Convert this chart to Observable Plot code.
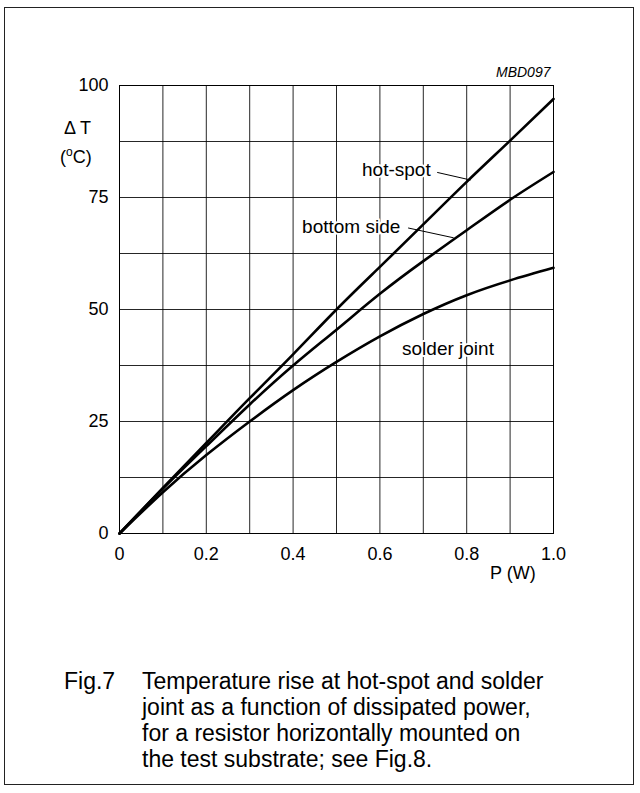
<!DOCTYPE html>
<html>
<head>
<meta charset="utf-8">
<script src="https://cdn.jsdelivr.net/npm/d3@7"></script>
<script src="https://cdn.jsdelivr.net/npm/@observablehq/plot@0.6"></script>
<style>
  html, body { margin: 0; padding: 0; background: #fff; }
  body { width: 640px; height: 793px; position: relative; overflow: hidden;
         font-family: "Liberation Sans", Arial, sans-serif; color: #000; }
  #frame { position: absolute; left: 4px; top: 7px; width: 630px; height: 778px;
           border: 1.5px solid #222; box-sizing: border-box; }
  #chart { position: absolute; left: 0; top: 0; }
  .t { position: absolute; white-space: nowrap; line-height: 1; }
  #caption { position: absolute; left: 0; top: 668px; font-size: 23px; line-height: 26px; }
  #caption .fig { position: absolute; left: 64px; top: 0; }
  #caption .body { position: absolute; left: 142px; top: 0; white-space: nowrap; }
</style>
</head>
<body>
<div id="frame"></div>
<div id="chart"></div>
<div class="t" style="left:496px; top:65px; font-size:14px; font-style:italic;">MBD097</div>
<div class="t" style="left:64px; top:119px; font-size:18px;">&Delta; T</div>
<div class="t" style="left:60px; top:146px; font-size:18px;">(<sup style="font-size:12px; vertical-align:7px;">o</sup>C)</div>
<div class="t" style="left:490px; top:564px; font-size:18px;">P (W)</div>
<div id="caption">
  <div class="fig">Fig.7</div>
  <div class="body">Temperature rise at hot-spot and solder<br>joint as a function of dissipated power,<br>for a resistor horizontally mounted on<br>the test substrate; see Fig.8.</div>
</div>
<script>
// ---- data ----
const power      = [0, 0.1, 0.2, 0.3, 0.4, 0.5, 0.6, 0.7, 0.8, 0.9, 1.0];
const hotSpot    = [0, 10.2, 20.2, 30.2, 40.0, 50.0, 59.5, 69.0, 78.5, 87.7, 97.0];
const bottomSide = [0, 10.0, 19.5, 28.8, 37.5, 45.5, 53.5, 60.8, 67.7, 74.5, 80.7];
const solderJoint= [0, 9.2, 17.5, 25.0, 32.0, 38.3, 44.0, 49.0, 53.2, 56.5, 59.3];

const xGrid = [0, 0.1, 0.2, 0.3, 0.4, 0.5, 0.6, 0.7, 0.8, 0.9, 1.0];
const yGrid = [0, 12.5, 25, 37.5, 50, 62.5, 75, 87.5, 100];
const xTickLabels = [0, 0.2, 0.4, 0.6, 0.8, 1.0];
const yTickLabels = [0, 25, 50, 75, 100];

// curve labels with leader lines (data coordinates)
const labels = [
  {text: "hot-spot",     x: 0.717, y: 81.2, anchor: "end"},
  {text: "bottom side",  x: 0.647, y: 68.4, anchor: "end"},
  {text: "solder joint", x: 0.651, y: 41.2, anchor: "start"}
];
const leaders = [
  {x1: 0.732, y1: 80.6, x2: 0.809, y2: 78.9},
  {x1: 0.665, y1: 68.2, x2: 0.770, y2: 66.0}
];

const series = [];
power.forEach((p, i) => {
  series.push({p, v: hotSpot[i], s: "hot-spot"});
  series.push({p, v: bottomSide[i], s: "bottom side"});
  series.push({p, v: solderJoint[i], s: "solder joint"});
});

const chart = Plot.plot({
  width: 640,
  height: 620,
  marginLeft: 119,
  marginRight: 87,
  marginTop: 85,
  marginBottom: 87,
  style: {fontFamily: '"Liberation Sans", Arial, sans-serif', fontSize: "18px", background: "transparent", color: "#000"},
  x: {domain: [0, 1]},
  y: {domain: [0, 100]},
  marks: [
    Plot.gridX(xGrid, {stroke: "#000", strokeOpacity: 0.85, strokeWidth: 1}),
    Plot.gridY(yGrid, {stroke: "#000", strokeOpacity: 0.85, strokeWidth: 1}),
    Plot.frame({stroke: "#000", strokeWidth: 1}),
    Plot.axisX(xTickLabels, {tickSize: 0, tickPadding: 14, label: null, fontSize: 18,
      tickFormat: d => d === 0 ? "0" : d.toFixed(1)}),
    Plot.axisY(yTickLabels, {tickSize: 0, tickPadding: 11, label: null, fontSize: 18,
      tickFormat: d => String(d)}),
    Plot.line(series, {x: "p", y: "v", z: "s", curve: "natural", stroke: "#000", strokeWidth: 2.6}),
    Plot.link(leaders, {x1: "x1", y1: "y1", x2: "x2", y2: "y2", stroke: "#000", strokeWidth: 1}),
    Plot.text(labels.filter(d => d.anchor === "end"), {x: "x", y: "y", text: "text", textAnchor: "end", fontSize: 19, fill: "#000", stroke: "#fff", strokeWidth: 4, paintOrder: "stroke"}),
    Plot.text(labels.filter(d => d.anchor === "start"), {x: "x", y: "y", text: "text", textAnchor: "start", fontSize: 19, fill: "#000", stroke: "#fff", strokeWidth: 4, paintOrder: "stroke"})
  ]
});
document.getElementById("chart").appendChild(chart);
</script>
</body>
</html>
